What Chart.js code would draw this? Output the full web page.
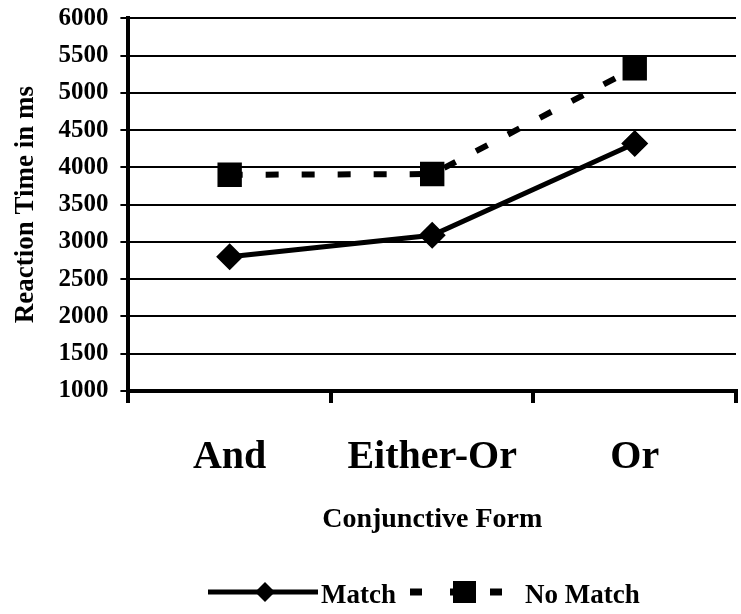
<!DOCTYPE html>
<html>
<head>
<meta charset="utf-8">
<script src="https://cdn.jsdelivr.net/npm/chart.js@4.4.1/dist/chart.umd.min.js"></script>
<style>
  html, body { margin: 0; padding: 0; background: #fff; overflow: hidden; }
  #wrap { width: 741px; height: 614px; }
</style>
</head>
<body>
<div id="wrap"><canvas id="chart"></canvas></div>
<script>
// Data
const categories = ['And', 'Either-Or', 'Or'];
const matchValues = [2800, 3090, 4320];
const noMatchValues = [3900, 3910, 5330];
const yTicks = [1000, 1500, 2000, 2500, 3000, 3500, 4000, 4500, 5000, 5500, 6000];

const serif = '"Liberation Serif", "DejaVu Serif", serif';

// Draws the legend in the bottom strip, Excel style
const bottomLegend = {
    id: 'bottomLegend',
    afterDraw(chart) {
        const ctx = chart.ctx;
        const y = 592;
        ctx.save();
        ctx.strokeStyle = '#000';
        ctx.fillStyle = '#000';
        // Match: solid line with diamond
        ctx.lineWidth = 5;
        ctx.setLineDash([]);
        ctx.beginPath();
        ctx.moveTo(208, y);
        ctx.lineTo(318, y);
        ctx.stroke();
        ctx.beginPath();
        ctx.moveTo(265, y - 10);
        ctx.lineTo(275, y);
        ctx.lineTo(265, y + 10);
        ctx.lineTo(255, y);
        ctx.closePath();
        ctx.fill();
        ctx.font = 'bold 27px ' + serif;
        ctx.textBaseline = 'alphabetic';
        ctx.fillText('Match', 321, y + 11);
        // No Match: dashed line with square
        ctx.lineWidth = 7;
        ctx.setLineDash([12, 28]);
        ctx.beginPath();
        ctx.moveTo(410, y);
        ctx.lineTo(505, y);
        ctx.stroke();
        ctx.setLineDash([]);
        ctx.fillRect(453, y - 11, 23, 22);
        ctx.fillText('No Match', 525, y + 11);
        ctx.restore();
    }
};

new Chart(document.getElementById('chart'), {
    type: 'line',
    data: {
        labels: categories,
        datasets: [{
            label: 'Match',
            data: matchValues,
            borderColor: '#000',
            backgroundColor: '#000',
            borderWidth: 5,
            pointStyle: 'rectRot',
            pointRadius: 10,
            pointHoverRadius: 10,
            tension: 0
        }, {
            label: 'No Match',
            data: noMatchValues,
            borderColor: '#000',
            backgroundColor: '#000',
            borderWidth: 6,
            borderDash: [13, 23],
            pointStyle: 'rect',
            pointRadius: 13,
            pointHoverRadius: 13,
            tension: 0
        }]
    },
    options: {
        responsive: true,
        maintainAspectRatio: false,
        animation: false,
        layout: {
            autoPadding: false,
            padding: { top: 0, right: 5, bottom: 87, left: 10 }
        },
        plugins: {
            legend: { display: false },
            tooltip: { enabled: false }
        },
        scales: {
            x: {
                offset: true,
                grid: {
                    offset: true,
                    drawOnChartArea: false,
                    color: '#000',
                    lineWidth: 4,
                    tickLength: 12
                },
                border: { color: '#000', width: 4 },
                ticks: {
                    color: '#000',
                    padding: 0,
                    font: { family: serif, size: 40, weight: 'bold', lineHeight: 2.75 }
                },
                title: {
                    display: true,
                    text: 'Conjunctive Form',
                    color: '#000',
                    padding: { top: 0, bottom: 0 },
                    font: { family: serif, size: 28, weight: 'bold', lineHeight: 0.5 }
                }
            },
            y: {
                min: 1000,
                max: 6000,
                afterBuildTicks(scale) {
                    scale.ticks = yTicks.map(v => ({ value: v }));
                },
                grid: {
                    color: '#000',
                    lineWidth: 2,
                    tickLength: 8
                },
                border: { color: '#000', width: 4 },
                ticks: {
                    color: '#000',
                    padding: 12,
                    callback: v => String(v),
                    font: { family: serif, size: 25, weight: 'bold', lineHeight: 0.5 }
                },
                title: {
                    display: true,
                    text: 'Reaction Time in ms',
                    color: '#000',
                    padding: { top: 0, bottom: 4 },
                    font: { family: serif, size: 27, weight: 'bold' }
                }
            }
        }
    },
    plugins: [bottomLegend]
});
</script>
</body>
</html>
